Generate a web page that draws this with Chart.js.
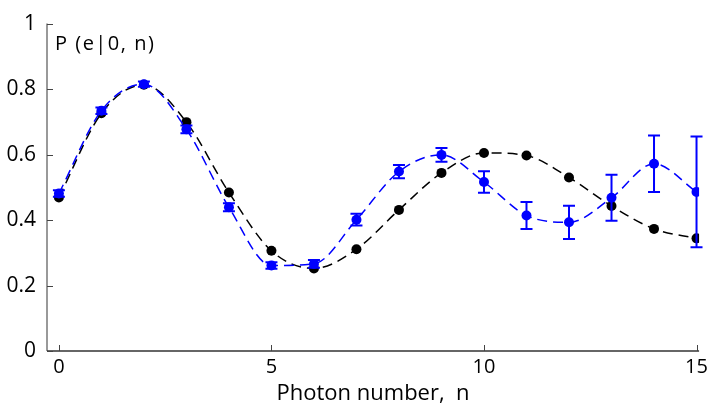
<!DOCTYPE html>
<html>
<head>
<meta charset="utf-8">
<script src="https://cdn.jsdelivr.net/npm/chart.js@4"></script>
<style>
  html, body { margin: 0; padding: 0; background: #fff; }
  #wrap { width: 712px; height: 406px; }
</style>
</head>
<body>
<div id="wrap"><canvas id="chart"></canvas></div>
<script>
// Photon number data
const photons = [0, 1, 2, 3, 4, 5, 6, 7, 8, 9, 10, 11, 12, 13, 14, 15];
const theory = [0.469, 0.726, 0.813, 0.699, 0.484, 0.306, 0.252, 0.311, 0.431, 0.544, 0.605, 0.597, 0.530, 0.443, 0.373, 0.344];
const measured = [0.481, 0.734, 0.815, 0.677, 0.439, 0.261, 0.266, 0.401, 0.548, 0.599, 0.516, 0.414, 0.393, 0.468, 0.572, 0.486];
const measuredErr = [0.01, 0.01, 0.008, 0.012, 0.012, 0.01, 0.012, 0.018, 0.02, 0.021, 0.033, 0.041, 0.051, 0.070, 0.086, 0.169];
const xTicks = [0, 5, 10, 15];
const yTicks = [0, 0.2, 0.4, 0.6, 0.8, 1];

const FONT = '"Open Sans", sans-serif';

function points(ys) {
    return photons.map((x, i) => ({ x: x, y: ys[i] }));
}

// Error bars for the measured series + inward ticks + inner y label
const extras = {
    id: 'extras',
    afterDatasetsDraw(chart) {
        const ctx = chart.ctx;
        const xs = chart.scales.x;
        const ys = chart.scales.y;
        ctx.save();
        ctx.strokeStyle = '#0000ff';
        ctx.lineWidth = 2;
        photons.forEach((n, i) => {
            const px = xs.getPixelForValue(n);
            const top = ys.getPixelForValue(measured[i] + measuredErr[i]);
            const bot = ys.getPixelForValue(measured[i] - measuredErr[i]);
            ctx.beginPath();
            ctx.moveTo(px, top); ctx.lineTo(px, bot);
            ctx.moveTo(px - 6, top); ctx.lineTo(px + 6, top);
            ctx.moveTo(px - 6, bot); ctx.lineTo(px + 6, bot);
            ctx.stroke();
        });
        ctx.restore();
    },
    afterDraw(chart) {
        const ctx = chart.ctx;
        const xs = chart.scales.x;
        const ys = chart.scales.y;
        const area = chart.chartArea;
        ctx.save();
        // axis lines
        ctx.lineWidth = 1.5;
        ctx.strokeStyle = '#777';
        ctx.beginPath();
        ctx.moveTo(area.left, area.top); ctx.lineTo(area.left, area.bottom);
        ctx.stroke();
        ctx.strokeStyle = '#333';
        ctx.beginPath();
        ctx.moveTo(area.left, area.bottom); ctx.lineTo(area.right, area.bottom);
        ctx.stroke();
        // inward ticks
        ctx.lineWidth = 1;
        ctx.strokeStyle = '#444';
        ctx.beginPath();
        xTicks.forEach(v => {
            const px = Math.round(xs.getPixelForValue(v)) + 0.5;
            ctx.moveTo(px, area.bottom); ctx.lineTo(px, area.bottom - 6);
        });
        yTicks.forEach(v => {
            const py = Math.round(ys.getPixelForValue(v)) + 0.5;
            ctx.moveTo(area.left, py); ctx.lineTo(area.left + 6, py);
        });
        ctx.stroke();
        // y label inside the plot
        ctx.fillStyle = '#000';
        ctx.font = '20px ' + FONT;
        ctx.letterSpacing = '1.5px';
        ctx.textAlign = 'left';
        ctx.textBaseline = 'middle';
        ctx.fillText('P (e|0, n)', area.left + 8, area.top + 21);
        ctx.restore();
    }
};

new Chart(document.getElementById('chart'), {
    type: 'line',
    data: {
        datasets: [{
            label: 'measured',
            data: points(measured),
            borderColor: '#0000ff',
            backgroundColor: '#0000ff',
            borderWidth: 1.5,
            borderDash: [10, 6],
            pointRadius: 5,
            pointBorderWidth: 0,
            tension: 0.4,
            cubicInterpolationMode: 'monotone',
            order: 1
        }, {
            label: 'theory',
            data: points(theory),
            borderColor: '#000000',
            backgroundColor: '#000000',
            borderWidth: 1.5,
            borderDash: [10, 6],
            pointRadius: 5,
            pointBorderWidth: 0,
            tension: 0.4,
            cubicInterpolationMode: 'monotone',
            order: 2
        }]
    },
    options: {
        responsive: true,
        maintainAspectRatio: false,
        animation: false,
        layout: { padding: { top: 16, right: 10, left: 0, bottom: 0 } },
        plugins: {
            legend: { display: false },
            tooltip: { enabled: false }
        },
        scales: {
            x: {
                type: 'linear',
                min: -0.28,
                max: 15.06,
                afterFit(scale) { scale.height = 55; },
                afterBuildTicks(scale) { scale.ticks = xTicks.map(v => ({ value: v })); },
                grid: { display: false, drawTicks: false },
                border: { display: false },
                ticks: {
                    padding: 4,
                    color: '#000',
                    font: { family: FONT, size: 20 },
                    callback: v => String(v)
                },
                title: {
                    display: true,
                    text: 'Photon number,  n',
                    color: '#000',
                    font: { family: FONT, size: 22 },
                    padding: { top: 0, bottom: -1 }
                }
            },
            y: {
                min: 0,
                max: 1,
                afterFit(scale) { scale.width = 47; },
                afterBuildTicks(scale) { scale.ticks = yTicks.map(v => ({ value: v })); },
                grid: { display: false, drawTicks: false },
                border: { display: false },
                ticks: {
                    padding: 11,
                    color: '#000',
                    font: { family: FONT, size: 21 },
                    callback: v => String(v)
                }
            }
        }
    },
    plugins: [extras]
});
</script>
</body>
</html>
